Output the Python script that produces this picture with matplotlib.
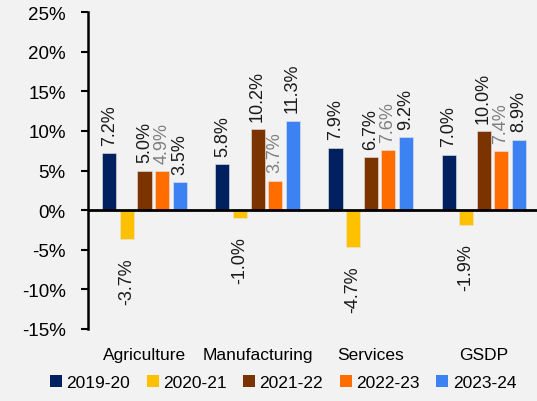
import numpy as np
import matplotlib
matplotlib.use('Agg')
import matplotlib.pyplot as plt
from matplotlib.patches import Patch

plt.rcParams['font.family'] = ['Liberation Sans', 'DejaVu Sans']

categories = ['Agriculture', 'Manufacturing', 'Services', 'GSDP']
years = ['2019-20', '2020-21', '2021-22', '2022-23', '2023-24']
g_1920 = [7.2, 5.8, 7.9, 7.0]
g_2021 = [-3.7, -1.0, -4.7, -1.9]
g_2122 = [5.0, 10.2, 6.7, 10.0]
g_2223 = [4.9, 3.7, 7.6, 7.4]
g_2324 = [3.5, 11.3, 9.2, 8.9]
series = [g_1920, g_2021, g_2122, g_2223, g_2324]
colors = ['#002060', '#FFC000', '#7B3300', '#FF6D00', '#3C82F2']
label_colors = ['#1a1a1a', '#1a1a1a', '#1a1a1a', '#7f7f7f', '#1a1a1a']
yticks = np.arange(-15, 26, 5)

bg = '#F2F2F2'
fig = plt.figure(figsize=(5.37, 4.02), dpi=100, facecolor=bg)
ax = fig.add_axes([88/537, 72/402, 1 - 88/537, 317/402], facecolor=bg)

x = np.arange(len(categories))
step = 0.155
width = 0.124
fs = 12.5
for i, (vals, c) in enumerate(zip(series, colors)):
    pos = x + (i - 2) * step
    bars = ax.bar(pos, vals, width, color=c, edgecolor='#e6e6e6', linewidth=0.4, label=years[i])
    for b, v in zip(bars, vals):
        xc = b.get_x() + b.get_width() / 2
        if v >= 0:
            ax.annotate(f'{v:.1f}%', (xc, v), xytext=(0, 6), textcoords='offset points',
                        rotation=90, ha='center', va='bottom', fontsize=13, color=label_colors[i])
        else:
            ax.annotate(f'{v:.1f}%', (xc, v), xytext=(0, -13), textcoords='offset points',
                        rotation=90, ha='center', va='top', fontsize=13, color=label_colors[i])

ax.set_xlim(-0.5, 3.473)
ax.set_ylim(-15, 25)
ax.set_yticks(yticks)
ax.set_yticklabels([f'{t}%' for t in yticks], fontsize=13.5)
ax.set_xticks(x)
ax.set_xticklabels(categories, fontsize=fs)
ax.tick_params(axis='x', length=0, pad=13)
ax.tick_params(axis='y', length=5, width=1.5, pad=11, direction='out')
ax.axhline(0, color='black', linewidth=2)
for s in ['top', 'right', 'bottom']:
    ax.spines[s].set_visible(False)
ax.spines['left'].set_linewidth(1.8)

handles = [Patch(facecolor=c, label=y) for c, y in zip(colors, years)]
fig.legend(handles=handles, loc='center', bbox_to_anchor=(0.527, 0.047), ncol=5, frameon=False,
           fontsize=fs, handlelength=0.7, handleheight=0.7, handletextpad=0.25, columnspacing=0.95)

fig.savefig('out.png', dpi=100, facecolor=bg)
